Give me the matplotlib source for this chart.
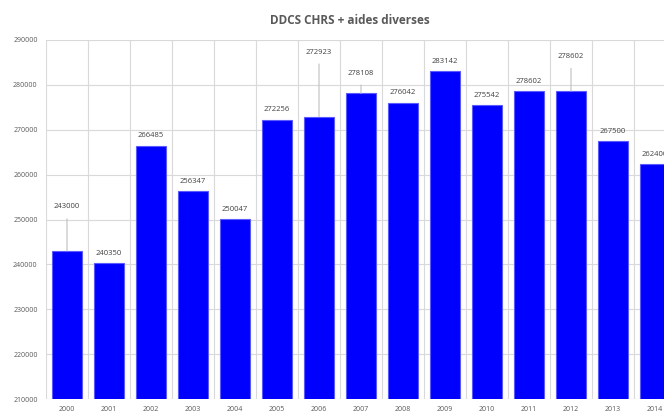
import matplotlib
matplotlib.use("Agg")
import matplotlib.pyplot as plt
from matplotlib.ticker import MultipleLocator, FixedLocator

years = ["2000", "2001", "2002", "2003", "2004", "2005", "2006", "2007",
         "2008", "2009", "2010", "2011", "2012", "2013", "2014"]
values = [243000, 240350, 266485, 256347, 250047, 272256, 272923, 278108,
          276042, 283142, 275542, 278602, 278602, 267500, 262400]
labels = ["243000", "240350", "266485", "256347", "250047", "272256", "272923", "278108",
          "276042", "283142", "275542", "278602", "278602", "267500", "262400"]

# label positions (y of label text in data units) for labels moved away with leader lines
moved = {0: 252800, 6: 287300, 7: 282600, 12: 286300}

plt.rcParams['font.family'] = ['Open Sans', 'DejaVu Sans']
fig = plt.figure(figsize=(6.64, 4.13), dpi=100)
ax = fig.add_axes([46/664, 1-399/413, 630/664, 359/413])

x = list(range(len(years)))
ax.bar(x, values, width=0.72, color="#0000ff", edgecolor="#5a5aff", linewidth=0.8, zorder=3)
ax.set_ylim(210000, 290000)
ax.set_xlim(-0.5, len(years) - 0.5)
ax.yaxis.set_major_locator(MultipleLocator(10000))
ax.set_xticks(x)
ax.set_xticklabels(years)
ax.xaxis.set_minor_locator(FixedLocator([i - 0.5 for i in range(len(years) + 1)]))
ax.grid(axis="y", which="major", color="#d9d9d9", linewidth=0.8, zorder=0)
ax.grid(axis="x", which="minor", color="#d9d9d9", linewidth=0.8, zorder=0)
ax.tick_params(axis="both", which="both", length=0, labelsize=5, labelcolor="#595959")
ax.tick_params(axis="x", pad=5)
ax.tick_params(axis="y", pad=6)
for s in ax.spines.values():
    s.set_visible(False)

for i, (v, lab) in enumerate(zip(values, labels)):
    if i in moved:
        ax.annotate(lab, xy=(i, v), xytext=(i, moved[i]), textcoords="data",
                    ha="center", va="center", fontsize=5.5, color="#404040",
                    arrowprops=dict(arrowstyle="-", color="#bfbfbf", lw=0.8,
                                    shrinkA=4, shrinkB=0), zorder=4)
    else:
        ax.annotate(lab, xy=(i, v), xytext=(0, 4.5), textcoords="offset points",
                    ha="center", va="bottom", fontsize=5.5, color="#404040",
                    annotation_clip=False, zorder=4)

fig.text(350/664, 1-20/413, "DDCS CHRS + aides diverses", ha="center", va="center",
         fontsize=8.5, fontweight="bold", color="#595959")

fig.savefig("out.png", dpi=100)
